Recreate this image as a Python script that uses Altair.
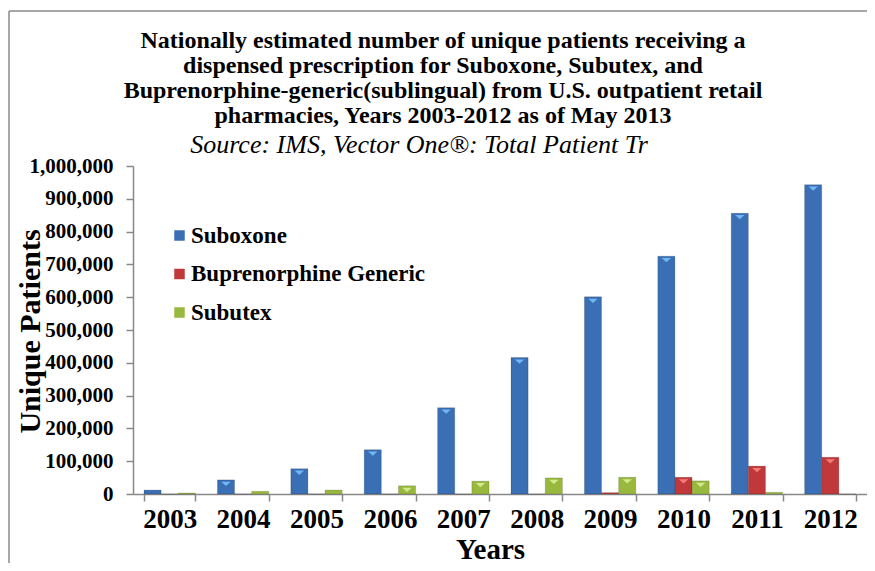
import altair as alt
import pandas as pd

years = ["2003", "2004", "2005", "2006", "2007", "2008", "2009", "2010", "2011", "2012"]
series = ["Suboxone", "Buprenorphine Generic", "Subutex"]
suboxone = [12000, 43000, 77000, 135000, 263000, 416000, 601000, 725000, 856000, 943000]
generic = [0, 0, 0, 0, 0, 0, 4000, 51000, 85000, 112000]
subutex = [3000, 8000, 12000, 25000, 39000, 49000, 51000, 40000, 5000, 0]
colors = ["#3A6EB5", "#C0383A", "#98B93E"]
cap_colors = ["#72B6F2", "#F47C78", "#D2E98E"]
y_ticks = [0, 100000, 200000, 300000, 400000, 500000, 600000, 700000, 800000, 900000, 1000000]
title_lines = ["Nationally estimated number of unique patients receiving a",
               "dispensed prescription for Suboxone, Subutex, and",
               "Buprenorphine-generic(sublingual) from U.S. outpatient retail",
               "pharmacies, Years 2003-2012 as of May 2013"]
subtitle_text = ["Source: IMS, Vector One®: Total Patient Tr"]

rows = []
for i, y in enumerate(years):
    for s, vals in zip(series, [suboxone, generic, subutex]):
        rows.append({"Year": y, "Series": s, "Value": vals[i]})
df = pd.DataFrame(rows)
sub_df = pd.DataFrame({"t": subtitle_text})

FONT = "Liberation Serif"
W, H = 734, 328

x_enc = alt.X("Year:N", sort=years,
              scale=alt.Scale(paddingInner=0.3, paddingOuter=0.15),
              axis=alt.Axis(title="Years", labelAngle=0, labelFont=FONT, labelFontSize=27,
                            labelFontWeight="bold", labelColor="black", labelPadding=5,
                            titleFont=FONT, titleFontSize=29, titleFontWeight="bold",
                            titleColor="black", titleX=357, titleY=55, titleBaseline="middle",
                            tickBand="extent", tickSize=7, tickColor="#888888", tickWidth=1.5,
                            domainColor="#888888", domainWidth=1.5))
xoff = alt.XOffset("Series:N", sort=series, scale=alt.Scale(paddingInner=0, paddingOuter=0))
y_enc = alt.Y("Value:Q", scale=alt.Scale(domain=[0, 1000000], nice=False),
              axis=alt.Axis(title="Unique Patients", values=y_ticks, format=",d",
                            labelFont=FONT, labelFontSize=21, labelFontWeight="bold",
                            labelColor="black", labelPadding=13, grid=False,
                            labelOverlap=False, labelBound=False, labelFlush=False,
                            tickSize=7, tickColor="#888888", tickWidth=1.5,
                            domainColor="#888888", domainWidth=1.5,
                            titleFont=FONT, titleFontSize=30, titleFontWeight="bold",
                            titleColor="black", titleX=-103, titleY=165, titleAngle=270,
                            titleAlign="center", titleBaseline="middle"))

bars = alt.Chart(df).mark_bar(stroke="#00000030", strokeWidth=0.8).encode(
    x=x_enc, xOffset=xoff, y=y_enc,
    color=alt.Color("Series:N", sort=series,
                    scale=alt.Scale(domain=series, range=colors),
                    legend=alt.Legend(title=None, orient="none", legendX=35, legendY=58,
                                      labelFont=FONT, labelFontSize=23, labelFontWeight="bold",
                                      labelColor="black", symbolType="square", symbolSize=110,
                                      symbolStrokeWidth=0, rowPadding=14.5, labelOffset=0,
                                      labelLimit=0))
)

caps = alt.Chart(df).transform_filter("datum.Value > 15000").mark_point(
    shape="M-1,-0.45L1,-0.45L0,0.45Z", filled=True, size=90, opacity=1, yOffset=4
).encode(
    x=x_enc, xOffset=xoff, y=y_enc,
    fill=alt.Fill("Series:N", sort=series, scale=alt.Scale(domain=series, range=cap_colors),
                  legend=None)
)

subtitle = alt.Chart(sub_df).mark_text(
    font=FONT, fontSize=26, fontStyle="italic", color="black", align="center", baseline="middle"
).encode(x=alt.value(286), y=alt.value(-21), text="t:N")

frame_left = alt.Chart(sub_df).mark_rule(color="#8a8a8a", strokeWidth=1.5).encode(
    x=alt.value(-124), y=alt.value(-155), y2=alt.value(400))
frame_top = alt.Chart(sub_df).mark_rule(color="#8a8a8a", strokeWidth=1.5).encode(
    x=alt.value(-124), x2=alt.value(740), y=alt.value(-155))

chart = alt.layer(bars, caps, subtitle, frame_left, frame_top).resolve_scale(
    color="independent").properties(
    width=W, height=H,
    autosize=alt.AutoSizeParams(type="none"),
    padding={"left": 125, "top": 158, "right": 0, "bottom": 69},
    title=alt.TitleParams(
        text=title_lines,
        font=FONT, fontSize=24, fontWeight="bold", color="black", lineHeight=25,
        anchor="middle", dx=-57, dy=118, offset=0),
).configure_view(stroke=None)

chart.save("out.html", embed_options={"renderer": "svg", "actions": False})
